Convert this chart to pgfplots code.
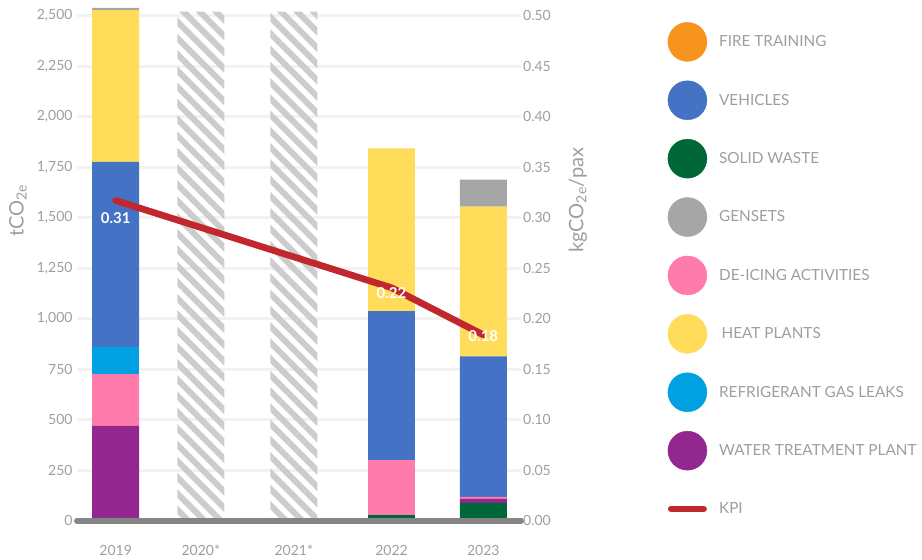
\documentclass[border=0pt]{standalone}
\usepackage{fontspec}
\setmainfont{Lato}
\usepackage{pgfplots}
\pgfplotsset{compat=1.18}
\usepackage{pgfplotstable}
\usetikzlibrary{patterns.meta}

\definecolor{cFire}{HTML}{F7941D}
\definecolor{cVeh}{HTML}{4472C4}
\definecolor{cSolid}{HTML}{006837}
\definecolor{cGen}{HTML}{A6A6A6}
\definecolor{cDeice}{HTML}{FF7BAC}
\definecolor{cHeat}{HTML}{FFDC5A}
\definecolor{cRefr}{HTML}{00A0E3}
\definecolor{cWater}{HTML}{92278F}
\definecolor{cKPI}{HTML}{C1272D}
\definecolor{cTxt}{HTML}{9E9E9E}
\definecolor{cGrid}{HTML}{F2F2F2}
\definecolor{cBase}{HTML}{858585}
\definecolor{cHatch}{HTML}{CCCCCC}

\pgfplotstableread{
x solid water deice refrig vehicles heat gensets hatch
0 0 469 257 133 917 752 10 0
0.926 0 0 0 0 0 0 0 2520
1.938 0 0 0 0 0 0 0 2520
3.001 28 0 272 0 738 805 0 0
4 88 20 10 0 695 742 133 0
}\emissions

\pgfplotstableread{
x kpi label dy
0 0.317 0.31 -18
3.001 0.2306 0.22 -5
4 0.184 0.18 -1
}\kpi

\pgfplotsset{
  base/.style={scale only axis, width=444pt, height=513.1pt,
    xmin=-0.421, xmax=4.41, ymin=0,
    axis line style={draw=none}, major tick length=0pt,
    tick label style={font=\fontsize{14}{16}\selectfont, text=cTxt},
    /pgf/number format/assume math mode=true},
  legcirc/.style={legend image code/.code={\fill[#1] (19.5pt,0pt) circle[radius=19.5pt];}}
}

\begin{document}
\begin{tikzpicture}
\begin{axis}[base, name=main, ymax=2540, ybar stacked, bar width=0.511,
  ytick={0,250,500,750,1000,1250,1500,1750,2000,2250,2500},
  ymajorgrids, grid style={cGrid, line width=3pt},
  xtick={0,0.926,1.938,3.001,4}, xticklabels={2019,2020*,2021*,2022,2023},
  xticklabel style={anchor=center, yshift=-29.5pt},
  yticklabel style={anchor=east, inner sep=0pt, xshift=-4.3pt},
  /pgf/number format/1000 sep={,},
  ylabel={tCO\textsubscript{2e}},
  ylabel style={at={(axis description cs:-0.133,0.605)}, anchor=center, font=\fontsize{20}{24}\selectfont, text=cTxt}]
\addplot[fill=cSolid, draw=none] table[x=x,y=solid]{\emissions};
\addplot[fill=cWater, draw=none] table[x=x,y=water]{\emissions};
\addplot[fill=cDeice, draw=none] table[x=x,y=deice]{\emissions};
\addplot[fill=cRefr, draw=none] table[x=x,y=refrig]{\emissions};
\addplot[fill=cVeh, draw=none] table[x=x,y=vehicles]{\emissions};
\addplot[fill=cHeat, draw=none] table[x=x,y=heat]{\emissions};
\addplot[fill=cGen, draw=none] table[x=x,y=gensets]{\emissions};
\addplot[draw=none, pattern={Lines[angle=-45,distance=11.5pt,line width=6pt]}, pattern color=cHatch] table[x=x,y=hatch]{\emissions};
\end{axis}

\begin{axis}[base, ymax=0.508, hide x axis, axis y line*=right,
  ytick={0,0.05,0.1,0.15,0.2,0.25,0.3,0.35,0.4,0.45,0.5},
  yticklabel style={/pgf/number format/.cd, fixed, fixed zerofill, precision=2, /tikz/.cd, anchor=west, inner sep=0pt, xshift=2pt},
  extra y ticks={0}, extra y tick labels={},
  extra y tick style={grid=major, major grid style={cBase, line width=6pt, line cap=round}},
  ylabel={kgCO\textsubscript{2e}/pax},
  ylabel style={at={(axis description cs:1.128,0.625)}, anchor=center, font=\fontsize{20}{24}\selectfont, text=cTxt},
  legend cell align=left,
  legend style={draw=none, fill=none, at={(axis description cs:1.33,0.972)}, anchor=north west,
    inner sep=0pt, row sep=19pt, font=\fontsize{15.3}{18}\selectfont, text=cTxt,
    nodes={inner sep=0pt}, /tikz/every odd column/.style={column sep=12pt}}]
\addplot[cKPI, line width=6.7pt, line cap=round, line join=round, forget plot,
  nodes near coords, point meta=explicit symbolic,
  visualization depends on={\thisrow{dy} \as \dy},
  every node near coord/.style={anchor=center, yshift=\dy pt, font=\bfseries\fontsize{15}{18}\selectfont, text=white}]
  table[x=x, y=kpi, meta=label]{\kpi};
\addlegendimage{legcirc=cFire}\addlegendentry{FIRE TRAINING}
\addlegendimage{legcirc=cVeh}\addlegendentry{VEHICLES}
\addlegendimage{legcirc=cSolid}\addlegendentry{SOLID WASTE}
\addlegendimage{legcirc=cGen}\addlegendentry{GENSETS}
\addlegendimage{legcirc=cDeice}\addlegendentry{DE-ICING ACTIVITIES}
\addlegendimage{legcirc=cHeat}\addlegendentry{\hspace*{2.5pt}HEAT PLANTS}
\addlegendimage{legcirc=cRefr}\addlegendentry{REFRIGERANT GAS LEAKS}
\addlegendimage{legcirc=cWater}\addlegendentry{WATER TREATMENT PLANT}
\addlegendimage{legend image code/.code={\path[draw=none, fill=none] (0pt,-19.5pt) rectangle (39pt,19.5pt); \draw[cKPI, line width=6.5pt, line cap=round] (3.25pt,0pt) -- (35.75pt,0pt);}}\addlegendentry{KPI}
\end{axis}
\pgfresetboundingbox
\path[use as bounding box] ([shift={(-77pt,-39.3pt)}]main.south west) rectangle ([shift={(845pt,520.7pt)}]main.south west);
\end{tikzpicture}
\end{document}
